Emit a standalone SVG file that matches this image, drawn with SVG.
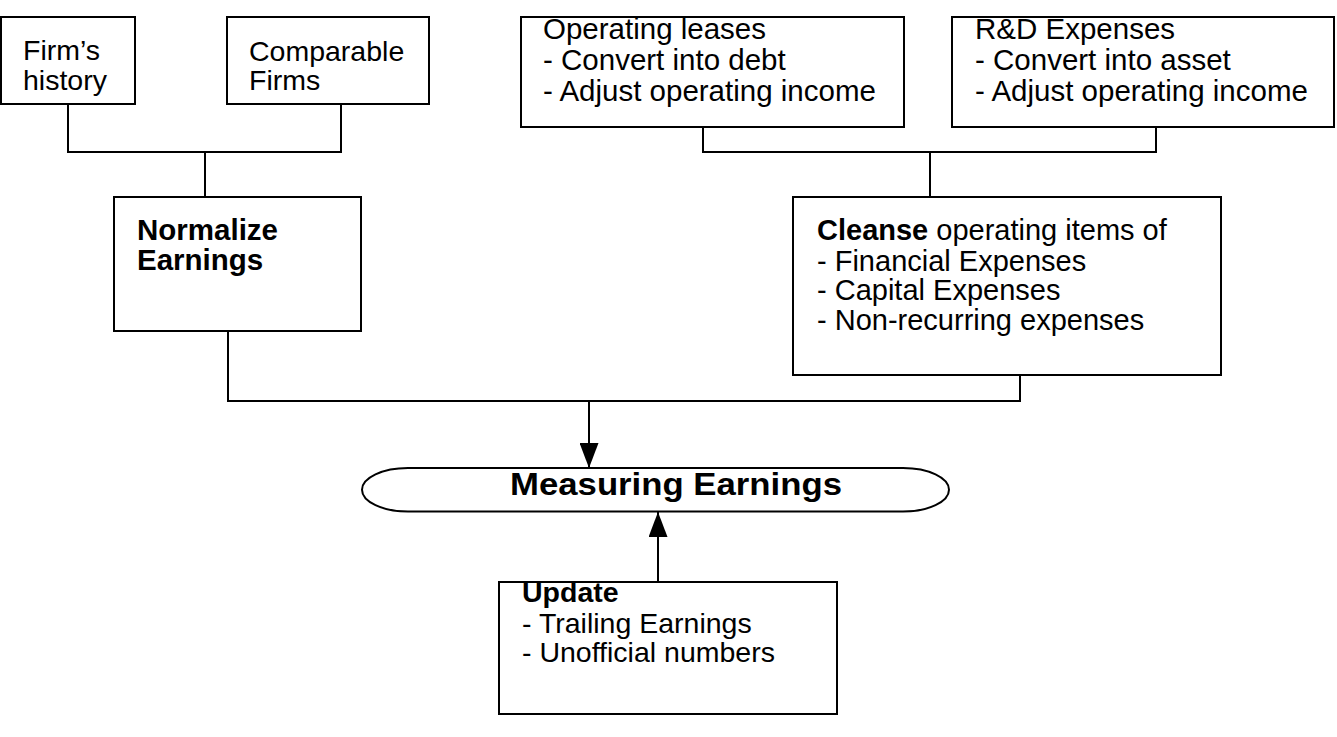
<svg xmlns="http://www.w3.org/2000/svg" width="1337" height="737" viewBox="0 0 1337 737">
<defs>
<style>
.box{fill:#fff;stroke:#000;stroke-width:2}
.t{font-family:"Liberation Sans",Arial,Helvetica,sans-serif;fill:#000}
.b{font-weight:bold}
.con{fill:none;stroke:#000;stroke-width:2}
</style>
<marker id="ah" markerUnits="userSpaceOnUse" markerWidth="25" markerHeight="19" refX="25" refY="9.5" orient="auto">
<path d="M0,0 L25,9.5 L0,19 z" fill="#000"/>
</marker>
</defs>
<rect width="1337" height="737" fill="#fff"/>
<g id="connectors">
<path class="con" d="M68,104 V152 H341 V104 M205,152 V197"/>
<path class="con" d="M703,127 V152 H1156 V127 M930,152 V197"/>
<path class="con" d="M228,331 V401 H1020 V376"/>
<path class="con" d="M589,401 V468" marker-end="url(#ah)"/>
<path class="con" d="M658,582 V512" marker-end="url(#ah)"/>
</g>
<g id="firms-history">
<rect class="box" x="1" y="17" width="134" height="87"/>
<text class="t" font-size="28.5" x="23" y="60">Firm’s</text>
<text class="t" font-size="28.5" x="23" y="90">history</text>
</g>
<g id="comparable-firms">
<rect class="box" x="227" y="17" width="202" height="87"/>
<text class="t" font-size="28.5" x="249" y="61">Comparable</text>
<text class="t" font-size="28.5" x="249" y="90">Firms</text>
</g>
<g id="operating-leases">
<rect class="box" x="521" y="17" width="383" height="110"/>
<text class="t" font-size="29.5" x="543" y="39">Operating leases</text>
<text class="t" font-size="29.5" x="543" y="70">- Convert into debt</text>
<text class="t" font-size="29.5" x="543" y="101">- Adjust operating income</text>
</g>
<g id="rd-expenses">
<rect class="box" x="952" y="17" width="382" height="110"/>
<text class="t" font-size="29.5" x="975" y="39">R&amp;D Expenses</text>
<text class="t" font-size="29.5" x="975" y="70">- Convert into asset</text>
<text class="t" font-size="29.5" x="975" y="101">- Adjust operating income</text>
</g>
<g id="normalize-earnings">
<rect class="box" x="114" y="197" width="247" height="134"/>
<text class="t b" font-size="29.5" x="137" y="240">Normalize</text>
<text class="t b" font-size="29.5" x="137" y="270">Earnings</text>
</g>
<g id="cleanse">
<rect class="box" x="793" y="197" width="428" height="178"/>
<text class="t" font-size="29" x="817" y="240"><tspan class="b">Cleanse</tspan> operating items of</text>
<text class="t" font-size="29" x="817" y="271">- Financial Expenses</text>
<text class="t" font-size="29" x="817" y="300">- Capital Expenses</text>
<text class="t" font-size="29" x="817" y="330">- Non-recurring expenses</text>
</g>
<g id="measuring-earnings">
<rect class="box" x="362" y="468" width="587" height="43.5" rx="46" ry="21.75"/>
<text class="t b" font-size="31" x="510" y="495" textLength="332" lengthAdjust="spacingAndGlyphs">Measuring Earnings</text>
</g>
<g id="update">
<rect class="box" x="499" y="582" width="338" height="132"/>
<text class="t b" font-size="28.5" x="522" y="602">Update</text>
<text class="t" font-size="28.5" x="522" y="633">- Trailing Earnings</text>
<text class="t" font-size="28.5" x="522" y="662">- Unofficial numbers</text>
</g>
</svg>
